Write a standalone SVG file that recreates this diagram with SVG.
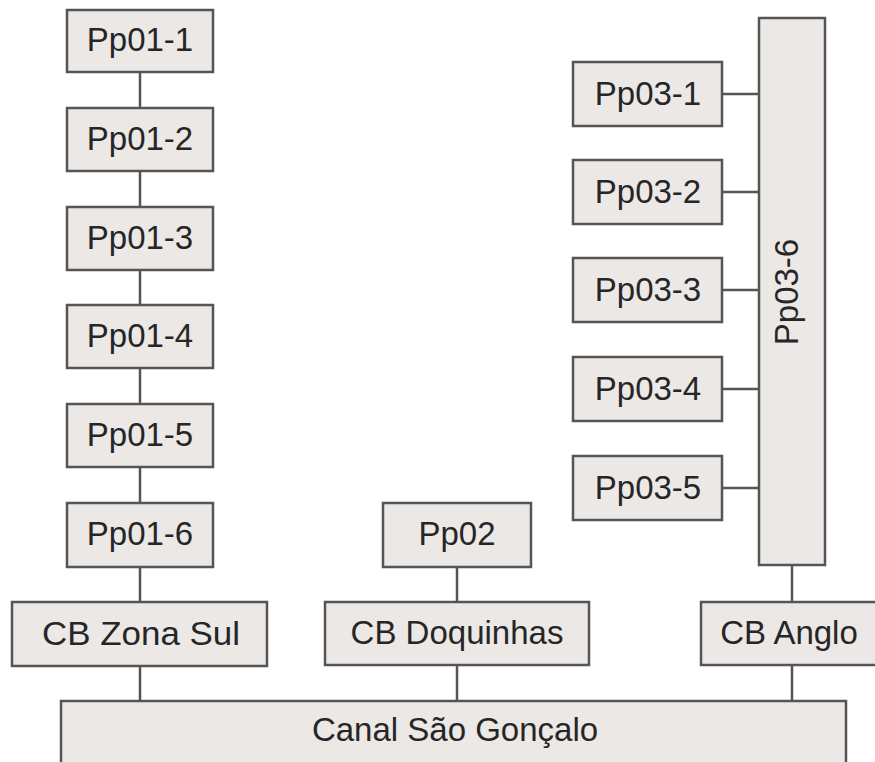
<svg xmlns="http://www.w3.org/2000/svg" width="875" height="762" viewBox="0 0 875 762">
<style>
.box{fill:#ebe8e6;stroke:#555;stroke-width:2.5}
.t{font-family:"Liberation Sans",Arial,sans-serif;font-size:33px;fill:#262626;text-anchor:middle}
.c{stroke:#555;stroke-width:2.5;fill:none}
</style>
<rect width="875" height="762" fill="#fff"/>
<g id="connectors">
<path class="c" d="M140 72V108M140 171V207M140 270V305M140 368V404M140 467V503M140 567V602M140 666V701"/>
<path class="c" d="M457 567V602M457 665V701"/>
<path class="c" d="M792 565V602M792 665V701"/>
<path class="c" d="M722 94H759M722 192H759M722 290H759M722 389H759M722 488H759"/>
</g>
<g id="Pp01-1"><rect class="box" x="67" y="10" width="146" height="62"/><text class="t" x="140" y="51">Pp01-1</text></g>
<g id="Pp01-2"><rect class="box" x="67" y="108" width="146" height="63"/><text class="t" x="140" y="150">Pp01-2</text></g>
<g id="Pp01-3"><rect class="box" x="67" y="207" width="146" height="63"/><text class="t" x="140" y="249">Pp01-3</text></g>
<g id="Pp01-4"><rect class="box" x="67" y="305" width="146" height="63"/><text class="t" x="140" y="347">Pp01-4</text></g>
<g id="Pp01-5"><rect class="box" x="67" y="404" width="146" height="63"/><text class="t" x="140" y="446">Pp01-5</text></g>
<g id="Pp01-6"><rect class="box" x="67" y="503" width="146" height="64"/><text class="t" x="140" y="545">Pp01-6</text></g>
<g id="Pp02"><rect class="box" x="383" y="503" width="148" height="64"/><text class="t" x="457" y="545">Pp02</text></g>
<g id="Pp03-1"><rect class="box" x="573" y="62" width="149" height="64"/><text class="t" x="648" y="105">Pp03-1</text></g>
<g id="Pp03-2"><rect class="box" x="573" y="160" width="149" height="64"/><text class="t" x="648" y="203">Pp03-2</text></g>
<g id="Pp03-3"><rect class="box" x="573" y="258" width="149" height="64"/><text class="t" x="648" y="301">Pp03-3</text></g>
<g id="Pp03-4"><rect class="box" x="573" y="357" width="149" height="64"/><text class="t" x="648" y="400">Pp03-4</text></g>
<g id="Pp03-5"><rect class="box" x="573" y="456" width="149" height="64"/><text class="t" x="648" y="499">Pp03-5</text></g>
<g id="Pp03-6"><rect class="box" x="759" y="18" width="66" height="547"/><text class="t" transform="translate(798 292) rotate(-90)" x="0" y="0">Pp03-6</text></g>
<g id="CB-Zona-Sul"><rect class="box" x="12" y="602" width="255" height="64"/><text class="t" x="141" y="645" textLength="198" lengthAdjust="spacingAndGlyphs">CB Zona Sul</text></g>
<g id="CB-Doquinhas"><rect class="box" x="325" y="602" width="264" height="63"/><text class="t" x="457" y="644">CB Doquinhas</text></g>
<g id="CB-Anglo"><rect class="box" x="701" y="602" width="180" height="63"/><text class="t" x="789" y="644">CB Anglo</text></g>
<g id="Canal-Sao-Goncalo"><rect class="box" x="61" y="701" width="785" height="70"/><text class="t" x="455" y="741">Canal São Gonçalo</text></g>
</svg>
